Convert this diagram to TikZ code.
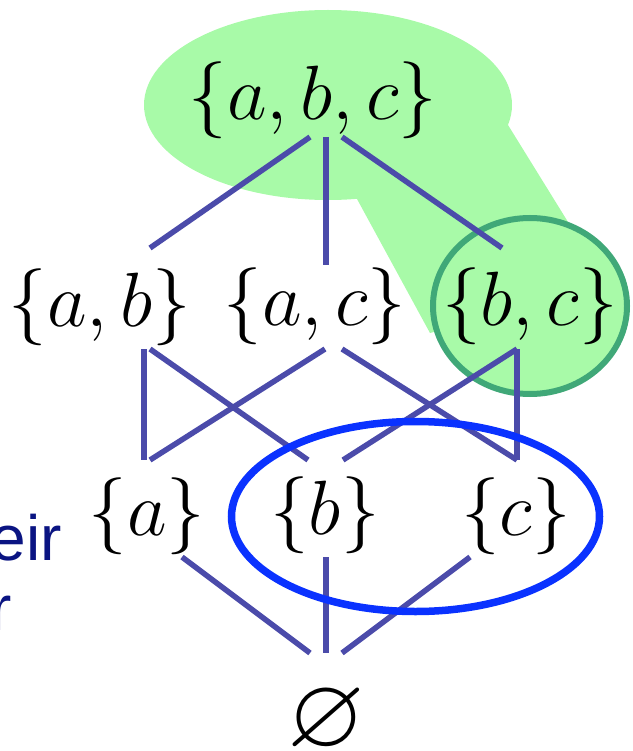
\RequirePackage{fix-cm}
\documentclass[tikz,border=0pt]{standalone}
\usepackage{amssymb}
\usepackage{fontspec}
\newfontfamily\arialfont{Liberation Sans}
\usetikzlibrary{calc}
\definecolor{lightgreen}{RGB}{168,250,168}
\definecolor{darkgreen}{RGB}{64,168,120}
\definecolor{edgeblue}{RGB}{75,75,170}
\definecolor{ringblue}{RGB}{10,50,255}
\definecolor{navytext}{RGB}{10,20,130}
\begin{document}
\begin{tikzpicture}[x=1pt,y=-1pt,
  setnode/.style={inner sep=0pt, font=\fontsize{77}{84}\selectfont},
  textnode/.style={inner sep=0pt, text=navytext, font=\arialfont\fontsize{64}{70}\selectfont},
  edge/.style={draw=edgeblue, line width=5.5pt}]
\useasboundingbox (0,0) rectangle (632,751);
% green highlight
\fill[lightgreen] (328,105) ellipse [x radius=184, y radius=95];
\fill[lightgreen] (357,199) -- (430,333) -- (530,306) -- (568,222) -- (508,125) -- (328,105) -- cycle;
\filldraw[fill=lightgreen, draw=darkgreen, line width=6pt] (530,306) ellipse [x radius=97, y radius=88];
% nodes
\node[setnode] (abc) at (313,100) {$\{a,b,c\}$};
\node[setnode] (ab) at (100,307) {$\{a,b\}$};
\node[setnode] (ac) at (315,306) {$\{a,c\}$};
\node[setnode] (bc) at (530,306) {$\{b,c\}$};
\node[setnode] (a) at (147,516) {$\{a\}$};
\node[setnode] (b) at (325,515) {$\{b\}$};
\node[setnode] (c) at (516,516) {$\{c\}$};
\node[setnode, font=\fontsize{100}{110}\selectfont] (empty) at (326,721) {$\varnothing$};
\node[textnode, anchor=base east] (eir) at (62,560) {eir};
\node[textnode, anchor=base east] (r) at (12,630) {r};
% edges
\draw[edge] ($(abc)+(-3,37)$) -- ($(ab)+(50,-59)$);
\draw[edge] ($(abc)+(13,37)$) -- ($(ac)+(11,-41)$);
\draw[edge] ($(abc)+(29,37)$) -- ($(bc)+(-28,-58)$);
\draw[edge] ($(ab)+(44,42)$) -- ($(a)+(-3,-56)$);
\draw[edge] ($(ab)+(50,42)$) -- ($(b)+(-17,-55)$);
\draw[edge] ($(ac)+(10,43)$) -- ($(a)+(3,-56)$);
\draw[edge] ($(ac)+(27,43)$) -- ($(c)+(1,-56)$);
\draw[edge] ($(bc)+(-13,43)$) -- ($(b)+(18,-55)$);
\draw[edge] ($(bc)+(-13,43)$) -- ($(c)+(1,-56)$);
\draw[edge] ($(a)+(35,41)$) -- ($(empty)+(-16,-68)$);
\draw[edge] ($(b)+(1,42)$) -- ($(empty)+(0,-68)$);
\draw[edge] ($(c)+(-46,41)$) -- ($(empty)+(16,-68)$);
% blue ring
\draw[ringblue, line width=7.5pt] (415.5,516.5) ellipse [x radius=184, y radius=95];
\end{tikzpicture}
\end{document}
